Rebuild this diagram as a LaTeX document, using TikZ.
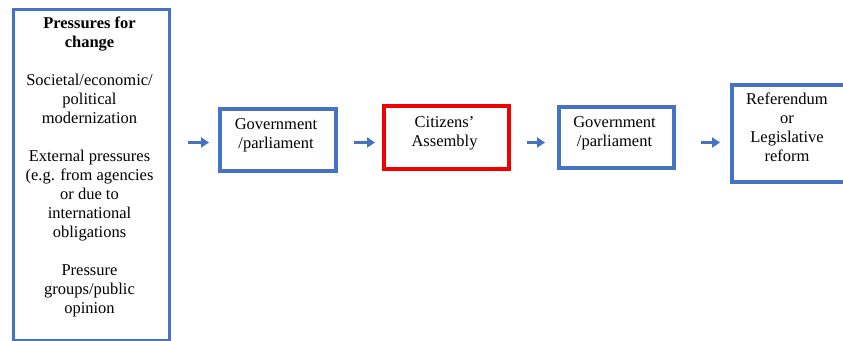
\documentclass[tikz,border=0pt]{standalone}
\usepackage{fontspec}
\setmainfont{Liberation Serif}
\usetikzlibrary{arrows.meta}
\definecolor{bblue}{HTML}{4472C4}
\definecolor{rred}{HTML}{F00000}
\begin{document}
\begin{tikzpicture}[x=1pt,y=1pt,
  box/.style={draw=bblue,line width=3.5pt,inner sep=0pt},
  redbox/.style={draw=rred,line width=3.5pt,inner sep=0pt},
  txt/.style={align=center,inner sep=0pt,font=\fontsize{16.5}{19}\selectfont},
  arr/.style={draw=bblue,line width=3.5pt,-{Triangle[length=8pt,width=10pt]}}]
\useasboundingbox (0,0) rectangle (843,-340);
\clip (0,0) rectangle (843,-340);
% boxes
\node[box, minimum width=156pt, minimum height=331pt, anchor=north west] (lb) at (11.5,-7.5) {};
\node[box, minimum width=116pt, minimum height=62pt, anchor=north west] (g1) at (218,-107) {};
\node[redbox, minimum width=125pt, minimum height=63pt, anchor=north west] (ca) at (382,-104) {};
\node[box, minimum width=115pt, minimum height=61pt, anchor=north west] (g2) at (557,-105) {};
\node[box, minimum width=118pt, minimum height=97pt, anchor=north west] (rf) at (730,-83) {};
% texts
\node[txt, anchor=north] (lt) at (89.5,-17) {\textbf{Pressures for}\\\textbf{change}\\[19pt]Societal/economic/\\political\\modernization\\[19pt]External pressures\\(e.g. from agencies\\or due to\\international\\obligations\\[19pt]Pressure\\groups/public\\opinion};
\node[txt] (t1) at (276,-135) {Government\\/parliament};
\node[txt] (t2) at (444.5,-133.5) {Citizens'\\Assembly};
\node[txt] (t3) at (614.5,-133.5) {Government\\/parliament};
\node[txt] (t4) at (787,-127) {Referendum\\or\\Legislative\\reform};
% arrows
\coordinate (ay) at (0,-142.5);
\draw[arr] ([xshift=17pt]lb.east |- ay) -- ([xshift=-9pt]g1.west |- ay);
\draw[arr] ([xshift=16pt]g1.east |- ay) -- ([xshift=-7pt]ca.west |- ay);
\draw[arr] ([xshift=16pt]ca.east |- ay) -- ([xshift=-12pt]g2.west |- ay);
\draw[arr] ([xshift=25pt]g2.east |- ay) -- ([xshift=-10pt]rf.west |- ay);
\end{tikzpicture}
\end{document}
